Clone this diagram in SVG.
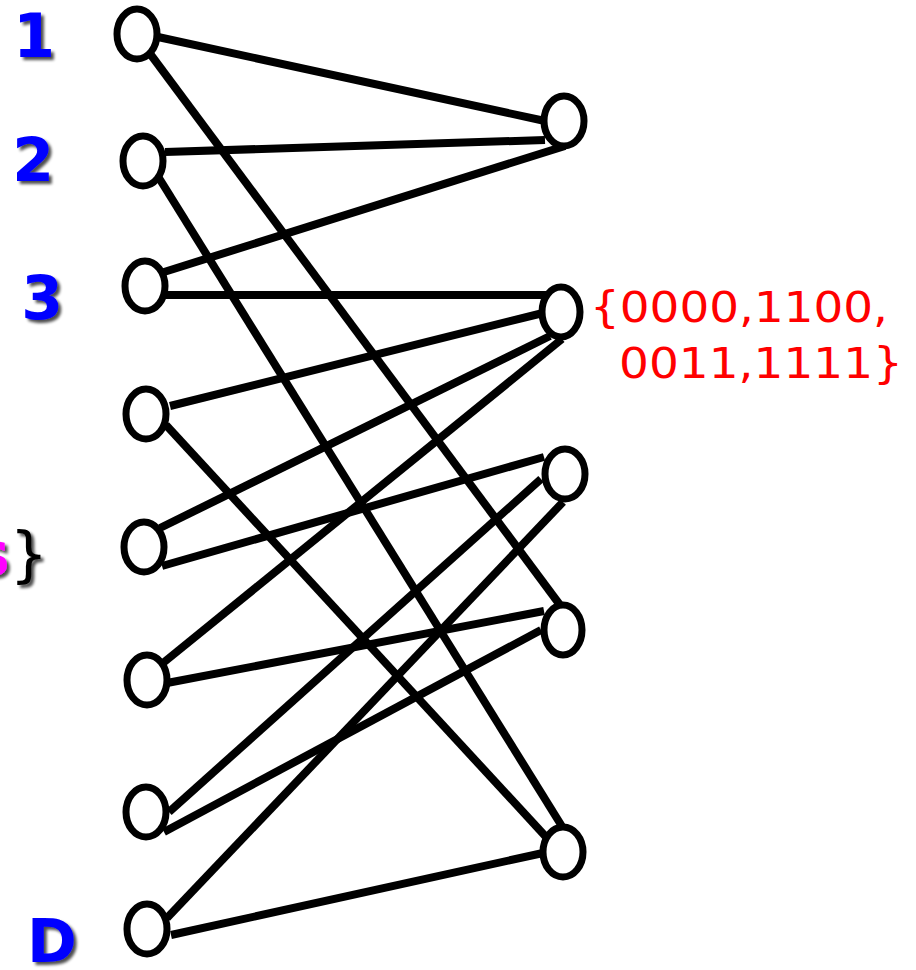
<svg xmlns="http://www.w3.org/2000/svg" width="916" height="970" viewBox="0 0 916 970">
<defs>
<filter id="sh" x="-30%" y="-30%" width="160%" height="160%">
<feGaussianBlur in="SourceAlpha" stdDeviation="1.5"/>
<feOffset dx="3" dy="3" result="b"/>
<feComponentTransfer><feFuncA type="linear" slope="0.7"/></feComponentTransfer>
<feMerge><feMergeNode/><feMergeNode in="SourceGraphic"/></feMerge>
</filter>
</defs>
<style>
.e{stroke:#000;stroke-width:8;stroke-linecap:butt;fill:none}
.n{fill:#fff;stroke:#000;stroke-width:7}
.lb{font-family:"DejaVu Sans",Verdana,sans-serif;font-size:60px;font-weight:bold;fill:#0000ff;text-anchor:middle}
.rd{font-family:"DejaVu Sans",Verdana,sans-serif;font-size:42px;fill:#ff0000}
</style>
<rect width="916" height="970" fill="#fff"/>
<g id="connectors">
<line class="e" x1="158" y1="37" x2="545" y2="121"/>
<line class="e" x1="151" y1="55" x2="560" y2="605"/>
<line class="e" x1="165" y1="152" x2="545" y2="140"/>
<line class="e" x1="159" y1="178" x2="563" y2="828"/>
<line class="e" x1="164" y1="272" x2="565" y2="146"/>
<line class="e" x1="166" y1="295" x2="547" y2="295"/>
<line class="e" x1="170" y1="406" x2="543" y2="313"/>
<line class="e" x1="166" y1="425" x2="547" y2="838"/>
<line class="e" x1="160" y1="528" x2="550" y2="336"/>
<line class="e" x1="162" y1="566" x2="544" y2="457"/>
<line class="e" x1="163" y1="663" x2="562" y2="339"/>
<line class="e" x1="167" y1="683" x2="544" y2="611"/>
<line class="e" x1="169" y1="812" x2="541" y2="479"/>
<line class="e" x1="164" y1="832" x2="541" y2="630"/>
<line class="e" x1="167" y1="918" x2="563" y2="502"/>
<line class="e" x1="171" y1="935" x2="543" y2="853"/>
</g>
<g id="n1"><ellipse class="n" cx="137" cy="34" rx="20" ry="25"/></g>
<g id="n2"><ellipse class="n" cx="143" cy="161" rx="20" ry="25"/></g>
<g id="n3"><ellipse class="n" cx="145" cy="286" rx="20" ry="25"/></g>
<g id="n4"><ellipse class="n" cx="146" cy="414" rx="20" ry="25"/></g>
<g id="n5"><ellipse class="n" cx="144" cy="547" rx="20" ry="25"/></g>
<g id="n6"><ellipse class="n" cx="147" cy="680" rx="20" ry="25"/></g>
<g id="n7"><ellipse class="n" cx="146" cy="812" rx="20" ry="25"/></g>
<g id="n8"><ellipse class="n" cx="147" cy="929" rx="20" ry="25"/></g>
<g id="r1"><ellipse class="n" cx="564" cy="121" rx="20" ry="25"/></g>
<g id="r2"><ellipse class="n" cx="561" cy="312" rx="19" ry="25"/></g>
<g id="r3"><ellipse class="n" cx="565" cy="474" rx="20" ry="25"/></g>
<g id="r4"><ellipse class="n" cx="563" cy="630" rx="19" ry="25"/></g>
<g id="r5"><ellipse class="n" cx="563" cy="852" rx="20" ry="25"/></g>
<g id="labels" filter="url(#sh)">
<text class="lb" x="34" y="57">1</text>
<text class="lb" x="33" y="181">2</text>
<text class="lb" x="42" y="319">3</text>
<text class="lb" x="52" y="962">D</text>
<text x="48" y="575" style="font-family:'DejaVu Sans',Verdana,sans-serif;font-size:60px;font-weight:bold;text-anchor:end"><tspan fill="#ff00ff">s</tspan><tspan fill="#000" font-weight="normal">}</tspan></text>
</g>
<g id="set">
<text class="rd" x="590" y="322" textLength="298" lengthAdjust="spacingAndGlyphs">{0000,1100,</text>
<text class="rd" x="619" y="378" textLength="284" lengthAdjust="spacingAndGlyphs">0011,1111}</text>
</g>
</svg>
